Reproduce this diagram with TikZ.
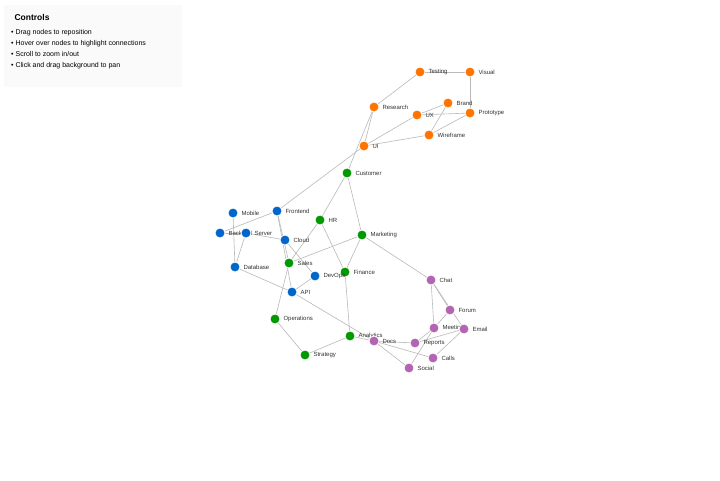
\documentclass[tikz,border=0pt]{standalone}
\usepackage{fontspec}
\setmainfont{Liberation Sans}
\begin{document}
\begin{tikzpicture}[x=1pt,y=-1pt,
 n/.style={circle,inner sep=0pt,minimum size=10pt,draw=white,line width=0.8pt},
 o/.style={n,fill=orange!90!red}, g/.style={n,fill=green!60!black}, b/.style={n,fill=blue!50!cyan!80!black}, p/.style={n,fill=violet!60},
 lb/.style={font=\fontsize{6}{7}\selectfont,text=black!80,anchor=west,xshift=5pt},
 e/.style={draw=gray!55,line width=0.6pt}]
\useasboundingbox (0,0) rectangle (720,480);
\fill[white] (0,0) rectangle (720,480);
\fill[gray!4] (4,5) rectangle (182,87);
\node[anchor=north west,font=\bfseries\fontsize{8.5}{10}\selectfont] (t) at (11,11) {Controls};
\node[anchor=north west,align=left,font=\fontsize{7}{11}\selectfont,inner sep=0pt] (l) at (11,29) {• Drag nodes to reposition\\• Hover over nodes to highlight connections\\• Scroll to zoom in/out\\• Click and drag background to pan};
\foreach \nm/\s/\xx/\yy in {Testing/o/420/72,Visual/o/470/72,Research/o/374/107,Brand/o/448/103,UX/o/417/115,Prototype/o/470/113,Wireframe/o/429/135,UI/o/364/146,
Customer/g/347/173,HR/g/320/220,Marketing/g/362/235,Sales/g/289/263,Finance/g/345/272,Operations/g/275/319,Analytics/g/350/336,Strategy/g/305/355,
Mobile/b/233/213,Frontend/b/277/211,Backend/b/220/233,Server/b/246/233,Cloud/b/285/240,Database/b/235/267,DevOps/b/315/276,API/b/292/292,
Chat/p/431/280,Forum/p/450/310,Meeting/p/434/328,Email/p/464/329,Docs/p/374/341,Reports/p/415/343,Calls/p/433/358,Social/p/409/368}
 \coordinate (\nm) at (\xx,\yy);
\foreach \a/\b in {Testing/Visual,Visual/Prototype,Testing/Research,Research/UI,Research/Customer,UI/UX,UI/Wireframe,UX/Prototype,Brand/UX,Brand/Wireframe,Wireframe/Prototype,UI/Frontend,Customer/HR,Customer/Marketing,Frontend/Backend,Mobile/Database,Backend/Server,Server/Database,Server/Cloud,Frontend/Sales,Frontend/API,Cloud/DevOps,HR/Sales,HR/Finance,Marketing/Sales,Marketing/Finance,Marketing/Chat,Finance/Analytics,Sales/Operations,DevOps/API,Database/API,API/Docs,Operations/Strategy,Strategy/Analytics,Analytics/Docs,Docs/Reports,Docs/Social,Chat/Meeting,Chat/Forum,Chat/Email,Forum/Meeting,Meeting/Reports,Reports/Email,Email/Calls,Meeting/Social,Docs/Calls}
 \draw[e] (\a) -- (\b);
\foreach \nm/\s/\xx/\yy in {Testing/o/420/72,Visual/o/470/72,Research/o/374/107,Brand/o/448/103,UX/o/417/115,Prototype/o/470/113,Wireframe/o/429/135,UI/o/364/146,
Customer/g/347/173,HR/g/320/220,Marketing/g/362/235,Sales/g/289/263,Finance/g/345/272,Operations/g/275/319,Analytics/g/350/336,Strategy/g/305/355,
Mobile/b/233/213,Frontend/b/277/211,Backend/b/220/233,Server/b/246/233,Cloud/b/285/240,Database/b/235/267,DevOps/b/315/276,API/b/292/292,
Chat/p/431/280,Forum/p/450/310,Meeting/p/434/328,Email/p/464/329,Docs/p/374/341,Reports/p/415/343,Calls/p/433/358,Social/p/409/368}
 {\node[\s] (n\nm) at (\nm) {}; \node[lb] (l\nm) at (\nm) {\nm};}
\end{tikzpicture}
\end{document}
